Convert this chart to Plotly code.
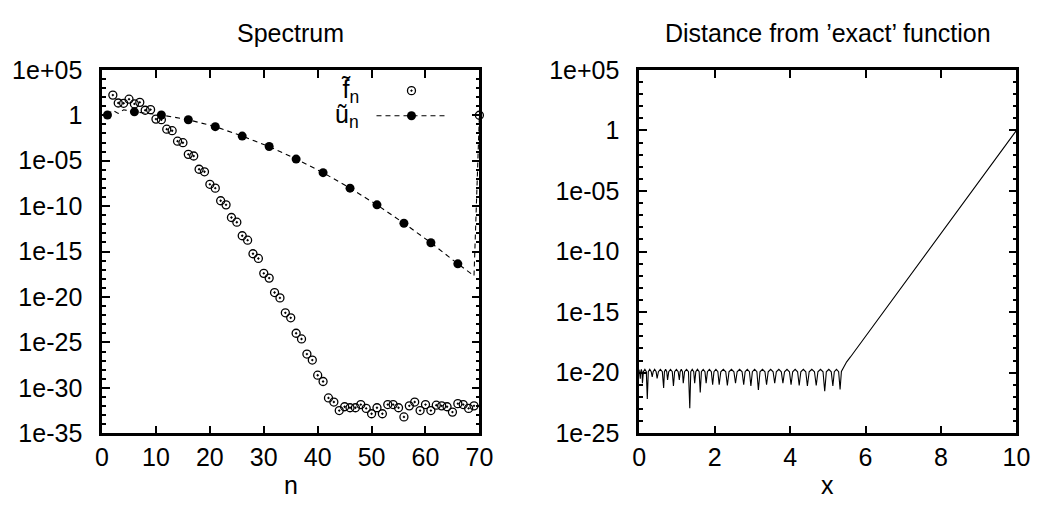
import plotly.graph_objects as go

# ---------------- data: left panel "Spectrum" ----------------
n_f = list(range(2, 71))
f_log10 = [2.22, 1.35, 1.32, 1.77, 1.25, 1.42, 0.55, 0.62, -0.42, -0.49,
           -1.53, -1.70, -2.85, -3.02, -4.30, -4.48, -5.94, -6.22, -7.60, -8.02,
           -9.41, -9.86, -11.25, -11.77, -13.26, -13.75, -15.24, -15.76, -17.40, -17.92,
           -19.51, -20.10, -21.74, -22.29, -23.99, -24.62, -26.28, -26.94, -28.61, -29.30,
           -31.11, -31.56, -32.50, -32.08, -32.19, -32.19, -31.84, -32.26, -32.85, -32.19,
           -32.85, -31.84, -31.84, -32.19, -33.20, -31.98, -31.56, -32.50, -31.84, -32.50,
           -31.91, -31.98, -32.08, -32.67, -31.74, -31.84, -32.26, -31.98, 0.0]

n_u = [1, 2, 3, 4, 6, 11, 16, 21, 26, 31, 36, 41, 46, 51, 56, 61, 66, 69, 70]
u_log10 = [0.03, 0.55, 0.20, 0.60, 0.38, 0.03, -0.49, -1.25, -2.29, -3.44, -4.82,
           -6.32, -8.02, -9.86, -11.88, -14.03, -16.35, -17.67, 0.0]
n_u_marked = [1, 6, 11, 16, 21, 26, 31, 36, 41, 46, 51, 56, 61, 66]

# ---------------- data: right panel "Distance from 'exact' function" ----------------
x_err = [0.0, 0.03,
         0.041, 0.0585, 0.076, 0.087,
         0.113, 0.1515, 0.190, 0.216,
         0.242, 0.281, 0.320, 0.346,
         0.372, 0.411, 0.450, 0.476,
         0.511, 0.5625, 0.614, 0.649,
         0.670, 0.701, 0.732, 0.753,
         0.784, 0.831, 0.878, 0.909,
         0.940, 0.987, 1.034, 1.065,
         1.086, 1.117, 1.148, 1.169,
         1.204, 1.2555, 1.307, 1.342,
         1.368, 1.407, 1.446, 1.472,
         1.501, 1.5455, 1.590, 1.619,
         1.650, 1.697, 1.744, 1.775,
         1.810, 1.8615, 1.913, 1.948,
         1.983, 2.0345, 2.086, 2.121,
         2.164, 2.2295, 2.295, 2.338,
         2.381, 2.446, 2.511, 2.554,
         2.597, 2.6625, 2.728, 2.771,
         2.809, 2.866, 2.923, 2.961,
         3.001, 3.0605, 3.120, 3.160,
         3.203, 3.2685, 3.334, 3.377,
         3.420, 3.485, 3.550, 3.593,
         3.636, 3.7015, 3.767, 3.810,
         3.853, 3.918, 3.983, 4.026,
         4.069, 4.134, 4.199, 4.242,
         4.285, 4.3505, 4.416, 4.459,
         4.506, 4.576, 4.646, 4.693,
         4.738, 4.8055, 4.873, 4.918,
         4.961, 5.026, 5.091, 5.134,
         5.172, 5.2295, 5.287, 5.325,
         5.36, 5.42, 5.50, 5.60, 10.0]
err_log10 = [-19.75, -20.50,
             -19.92, -19.72, -19.92, -20.86,
             -19.92, -19.72, -19.92, -22.16,
             -19.92, -19.72, -19.92, -20.34,
             -19.92, -19.72, -19.92, -20.47,
             -19.92, -19.72, -19.92, -21.25,
             -19.92, -19.72, -19.92, -20.60,
             -19.92, -19.72, -19.92, -21.10,
             -19.92, -19.72, -19.92, -20.60,
             -19.92, -19.72, -19.92, -20.86,
             -19.92, -19.72, -19.92, -22.94,
             -19.92, -19.72, -19.92, -20.86,
             -19.92, -19.72, -19.92, -21.64,
             -19.92, -19.72, -19.92, -20.86,
             -19.92, -19.72, -19.92, -20.99,
             -19.92, -19.72, -19.92, -20.99,
             -19.92, -19.72, -19.92, -21.06,
             -19.92, -19.72, -19.92, -20.86,
             -19.92, -19.72, -19.92, -20.99,
             -19.92, -19.72, -19.92, -21.10,
             -19.92, -19.72, -19.92, -21.43,
             -19.92, -19.72, -19.92, -20.99,
             -19.92, -19.72, -19.92, -20.86,
             -19.92, -19.72, -19.92, -20.86,
             -19.92, -19.72, -19.92, -20.99,
             -19.92, -19.72, -19.92, -21.06,
             -19.92, -19.72, -19.92, -21.10,
             -19.92, -19.72, -19.92, -21.06,
             -19.92, -19.72, -19.92, -21.53,
             -19.92, -19.72, -19.92, -21.10,
             -19.92, -19.72, -19.92, -21.38,
             -19.90, -19.50, -19.10, -18.70, 0.0]

# ---------------- tick labels ----------------
x1_ticks = [0, 10, 20, 30, 40, 50, 60, 70]
x1_labels = ["0", "10", "20", "30", "40", "50", "60", "70"]
y1_exps = [-35, -30, -25, -20, -15, -10, -5, 0, 5]
y1_labels = ["1e-35", "1e-30", "1e-25", "1e-20", "1e-15", "1e-10", "1e-05", "1", "1e+05"]
x2_ticks = [0, 2, 4, 6, 8, 10]
x2_labels = ["0", "2", "4", "6", "8", "10"]
y2_exps = [-25, -20, -15, -10, -5, 0, 5]
y2_labels = ["1e-25", "1e-20", "1e-15", "1e-10", "1e-05", "1", "1e+05"]

titles = ["Spectrum", "Distance from \u2019exact\u2019 function"]
xtitles = ["n", "x"]
legend_names = ["f\u0303<sub>n</sub>", "\u0169<sub>n</sub>"]

# ---------------- layout geometry (pixels) ----------------
W, H = 1054, 523
L1, R1 = 97, 482
L2, R2 = 645, 1030
TOP, BOT = 59, 443
FONT = "Liberation Sans"
FS = 25


def fx(p):
    return p / W


def fy(p):
    return 1 - p / H


fig = go.Figure()

# f~_n : open circles with a centre dot
fig.add_trace(go.Scatter(
    x=n_f, y=[10 ** v for v in f_log10], mode="markers",
    marker=dict(symbol="circle-open-dot", size=8, color="black", line=dict(width=1.3)),
    cliponaxis=False, showlegend=False, xaxis="x", yaxis="y"))

# u~_n : dashed line through all values, filled circles every 5th
fig.add_trace(go.Scatter(
    x=n_u, y=[10 ** v for v in u_log10], mode="lines",
    line=dict(color="black", width=1.1, dash="5px,4px"),
    cliponaxis=False, showlegend=False, xaxis="x", yaxis="y"))
um_x = [n for n in n_u if n in n_u_marked]
um_y = [10 ** v for n, v in zip(n_u, u_log10) if n in n_u_marked]
fig.add_trace(go.Scatter(
    x=um_x, y=um_y, mode="markers",
    marker=dict(symbol="circle", size=9, color="black"),
    cliponaxis=False, showlegend=False, xaxis="x", yaxis="y"))

# right panel: error curve
fig.add_trace(go.Scatter(
    x=x_err, y=[10 ** v for v in err_log10], mode="lines",
    line=dict(color="black", width=1.1),
    showlegend=False, xaxis="x2", yaxis="y2"))

# ---------------- key (gnuplot style: text then sample) ----------------
kx_c = (412.7 - L1) / (R1 - L1)
kx_0 = (377 - L1) / (R1 - L1)
kx_1 = (448 - L1) / (R1 - L1)
ky_1 = (BOT - 81) / (BOT - TOP)
ky_2 = (BOT - 107.5) / (BOT - TOP)
fig.add_trace(go.Scatter(
    x=[kx_c], y=[ky_1], mode="markers",
    marker=dict(symbol="circle-open-dot", size=8, color="black", line=dict(width=1.3)),
    showlegend=False, xaxis="x3", yaxis="y3", hoverinfo="skip"))
fig.add_trace(go.Scatter(
    x=[kx_0, kx_1], y=[ky_2, ky_2], mode="lines",
    line=dict(color="black", width=1.1, dash="5px,4px"),
    showlegend=False, xaxis="x3", yaxis="y3", hoverinfo="skip"))
fig.add_trace(go.Scatter(
    x=[kx_c], y=[ky_2], mode="markers",
    marker=dict(symbol="circle", size=9, color="black"),
    showlegend=False, xaxis="x3", yaxis="y3", hoverinfo="skip"))

kt_x = (361 - L1) / (R1 - L1)
annotations = []
for name, ky in zip(legend_names, [ky_1, ky_2]):
    annotations.append(dict(text=name, xref="x3", yref="y3", x=kt_x, y=ky,
                            xanchor="right", yanchor="middle", showarrow=False,
                            font=dict(family=FONT, size=FS, color="black")))

# titles and axis titles
centers = [(L1 + R1) / 2, (L2 + R2) / 2]
for t, xt, c in zip(titles, xtitles, centers):
    annotations.append(dict(text=t, xref="paper", yref="paper", x=fx(c), y=fy(20),
                            xanchor="center", yanchor="middle", showarrow=False,
                            font=dict(family=FONT, size=FS, color="black")))
    annotations.append(dict(text=xt, xref="paper", yref="paper", x=fx(c), y=fy(498),
                            xanchor="center", yanchor="middle", showarrow=False,
                            font=dict(family=FONT, size=FS, color="black")))

tickfont = dict(family=FONT, size=FS, color="black")
common = dict(showline=True, linecolor="black", linewidth=2.5, mirror="allticks",
              ticks="inside", ticklen=8, tickwidth=2, tickcolor="black",
              showgrid=False, zeroline=False, tickfont=tickfont, fixedrange=True)
minor = dict(ticks="inside", ticklen=4, tickwidth=2, tickcolor="black", showgrid=False)

fig.update_layout(
    width=W, height=H,
    margin=dict(l=0, r=0, t=0, b=0),
    paper_bgcolor="white", plot_bgcolor="white",
    font=dict(family=FONT, size=FS, color="black"),
    xaxis=dict(domain=[fx(L1), fx(R1)], range=[0, 70], tickmode="array",
               tickvals=x1_ticks, ticktext=x1_labels, anchor="y",
               ticklabelstandoff=0, **common),
    yaxis=dict(domain=[fy(BOT), fy(TOP)], type="log", range=[-35, 5], tickmode="array",
               tickvals=[10 ** e for e in y1_exps], ticktext=y1_labels, anchor="x",
               ticklabelstandoff=12,
               minor=dict(tickmode="array", tickvals=[10 ** k for k in range(-35, 6)], **minor),
               **common),
    xaxis2=dict(domain=[fx(L2), fx(R2)], range=[0, 10], tickmode="array",
                tickvals=x2_ticks, ticktext=x2_labels, anchor="y2",
                ticklabelstandoff=0, **common),
    yaxis2=dict(domain=[fy(BOT), fy(TOP)], type="log", range=[-25, 5], tickmode="array",
                tickvals=[10 ** e for e in y2_exps], ticktext=y2_labels, anchor="x2",
                ticklabelstandoff=12,
                minor=dict(tickmode="array", tickvals=[10 ** k for k in range(-25, 6)], **minor),
                **common),
    xaxis3=dict(domain=[fx(L1), fx(R1)], range=[0, 1], visible=False, anchor="y3",
                overlaying="x", fixedrange=True),
    yaxis3=dict(domain=[fy(BOT), fy(TOP)], range=[0, 1], visible=False, anchor="x3",
                overlaying="y", fixedrange=True),
    annotations=annotations,
)

fig.write_html("out.html")
